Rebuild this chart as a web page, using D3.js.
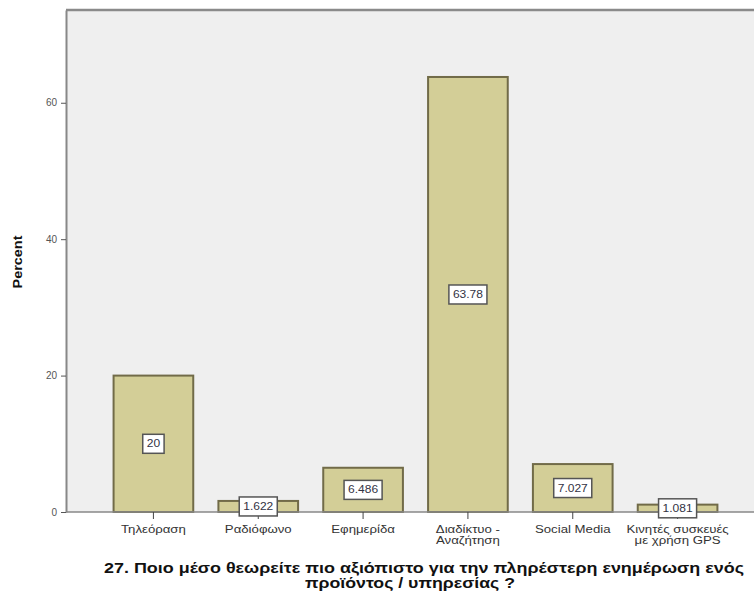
<!DOCTYPE html>
<html>
<head>
<meta charset="utf-8">
<script src="https://cdn.jsdelivr.net/npm/d3@7/dist/d3.min.js"></script>
<style>
  html, body { margin: 0; padding: 0; background: #ffffff; }
  svg { display: block; }
</style>
</head>
<body>
<svg id="chart" width="754" height="601"></svg>
<script>
// Percent of respondents per medium
const categories = [
  ["Τηλεόραση"],
  ["Ραδιόφωνο"],
  ["Εφημερίδα"],
  ["Διαδίκτυο -", "Αναζήτηση"],
  ["Social  Media"],
  ["Κινητές συσκευές", "με χρήση GPS"]
];
const values = [20, 1.622, 6.486, 63.78, 7.027, 1.081];
const valueLabels = ["20", "1.622", "6.486", "63.78", "7.027", "1.081"];
const yTicks = [0, 20, 40, 60];
const yTitle = "Percent";
const titleLines = [
  "27. Ποιο μέσο θεωρείτε πιο αξιόπιστο για την πληρέστερη ενημέρωση ενός",
  "προϊόντος / υπηρεσίας ?"
];

const svg = d3.select("#chart");
const plotLeft = 66, plotTop = 10, plotRight = 754, plotBottom = 512;
const labelFont = "'Liberation Sans', Arial, sans-serif";

// widen a text element horizontally by the given factor
function widen(sel, factor) {
  const len = sel.node().getComputedTextLength();
  sel.attr("textLength", len * factor).attr("lengthAdjust", "spacingAndGlyphs");
  return len * factor;
}

const y = d3.scaleLinear().domain([0, 73.6]).range([plotBottom, plotTop]);
const x = d3.scaleBand()
  .domain(d3.range(values.length))
  .range([101, 730])
  .paddingInner(0.24)
  .paddingOuter(0.12);

// plot background and frame
svg.append("rect")
  .attr("x", plotLeft).attr("y", plotTop)
  .attr("width", plotRight - plotLeft).attr("height", plotBottom - plotTop)
  .attr("fill", "#efefef");
svg.append("line")
  .attr("x1", plotLeft).attr("x2", plotRight)
  .attr("y1", plotTop).attr("y2", plotTop)
  .attr("stroke", "#8a8a8a").attr("stroke-width", 2.5);

// bars
svg.append("g").selectAll("rect")
  .data(values)
  .join("rect")
  .attr("x", (d, i) => x(i))
  .attr("y", d => y(d))
  .attr("width", x.bandwidth())
  .attr("height", d => y(0) - y(d))
  .attr("fill", "#d3ce97")
  .attr("stroke", "#716b48")
  .attr("stroke-width", 2);

// y axis
const yAxis = svg.append("g")
  .attr("transform", `translate(${plotLeft},0)`)
  .call(d3.axisLeft(y).tickValues(yTicks).tickSize(5).tickPadding(4).tickSizeOuter(0));
yAxis.select(".domain").attr("stroke", "#888888").attr("stroke-width", 2);
yAxis.selectAll(".tick line").attr("stroke", "#555555");
yAxis.selectAll(".tick text")
  .attr("fill", "#555555")
  .style("font-family", labelFont)
  .style("font-size", "10px");

// x axis
const xAxis = svg.append("g")
  .attr("transform", `translate(0,${plotBottom})`)
  .call(d3.axisBottom(x).tickSize(7).tickFormat(() => "").tickSizeOuter(0));
xAxis.select(".domain").attr("d", `M${plotLeft},0H${plotRight}`).attr("stroke", "#888888").attr("stroke-width", 1.5);
xAxis.selectAll(".tick line").attr("stroke", "#444444");
xAxis.selectAll(".tick").each(function (d, i) {
  const tick = d3.select(this);
  categories[i].forEach((line, k) => {
    const t = tick.append("text")
      .attr("fill", "#333333")
      .attr("text-anchor", "middle")
      .attr("x", 0).attr("y", 21 + k * 11)
      .style("font-family", labelFont)
      .style("font-size", "10px")
      .text(line);
    widen(t, 1.32);
  });
});

// value boxes at mid-height of each bar
const labels = svg.append("g").selectAll("g")
  .data(values)
  .join("g")
  .attr("transform", (d, i) => `translate(${x(i) + x.bandwidth() / 2},${(y(d) + y(0)) / 2})`);
labels.each(function (d, i) {
  const g = d3.select(this);
  const txt = g.append("text")
    .attr("text-anchor", "middle")
    .attr("dy", "0.35em")
    .attr("fill", "#333344")
    .style("font-family", labelFont)
    .style("font-size", "10px")
    .text(valueLabels[i]);
  const w = widen(txt, 1.2) + 8;
  g.insert("rect", "text")
    .attr("x", -w / 2).attr("y", -9.5)
    .attr("width", w).attr("height", 19)
    .attr("fill", "#ffffff")
    .attr("stroke", "#555555")
    .attr("stroke-width", 1.5);
});

// y axis title
const yt = svg.append("text")
  .attr("transform", `translate(22,262) rotate(-90)`)
  .attr("text-anchor", "middle")
  .style("font-family", labelFont)
  .style("font-size", "12px")
  .style("font-weight", "bold")
  .attr("fill", "#111111")
  .text(yTitle);
widen(yt, 1.2);

// chart title below axis
const titleSpans = [
  { x: 104, y: 573, len: 640 },
  { x: 305, y: 588, len: 210 }
];
titleLines.forEach((line, k) => {
  svg.append("text")
    .attr("x", titleSpans[k].x).attr("y", titleSpans[k].y)
    .attr("textLength", titleSpans[k].len)
    .attr("lengthAdjust", "spacingAndGlyphs")
    .style("font-family", labelFont)
    .style("font-size", "14px")
    .style("font-weight", "bold")
    .attr("fill", "#111111")
    .text(line);
});
</script>
</body>
</html>
